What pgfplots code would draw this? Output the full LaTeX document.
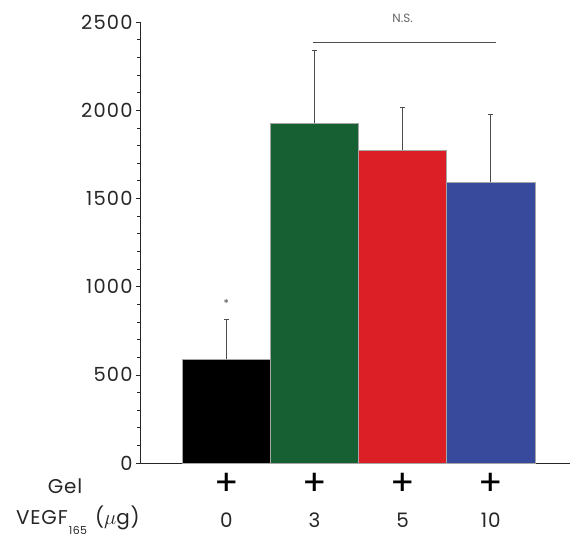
\documentclass[border=0pt]{standalone}
\usepackage{pgfplots}
\pgfplotsset{compat=1.18}
\usepackage{fontspec}
\setmainfont{Poppins}
\definecolor{cgreen}{HTML}{166033}
\definecolor{cred}{HTML}{DC1F26}
\definecolor{cblue}{HTML}{374A9C}
\tikzset{
  plussign/.style={font=\fontsize{36}{36}\selectfont, inner sep=0pt},
  numlab/.style={font=\fontsize{20}{20}\selectfont\addfontfeatures{LetterSpace=4}, text=black!85, inner sep=0pt},
}
\begin{document}
\begin{tikzpicture}
\begin{axis}[name=ax, scale only axis, width=430bp, height=441bp,
  xmin=-0.98, xmax=3.9, ymin=0, ymax=2500, clip=false,
  axis x line=bottom, axis y line=left,
  axis line style={-, line width=0.6pt, black!85},
  ytick={0,500,...,2500}, minor y tick num=4,
  xtick=\empty,
  tick align=outside, major tick length=4bp, minor tick length=2.5bp,
  tick style={black!85, line width=0.6pt},
  yticklabel style={font=\fontsize{19.5}{19.5}\selectfont\addfontfeatures{LetterSpace=6}, /pgf/number format/assume math mode=true, text=black!85},
  /pgf/number format/1000 sep={},
  ybar, bar width=1, bar shift=0pt,
  every axis plot/.append style={draw=gray!70, line width=0.4pt},
]
\addplot[fill=black, error bars/.cd, y dir=plus, y explicit,
  error bar style={black!70, line width=0.9pt}, error mark options={rotate=90, black!70, line width=0.9pt, mark size=2.5bp}]
  coordinates {(0,588) +- (0,227)};
\addplot[fill=cgreen, error bars/.cd, y dir=plus, y explicit,
  error bar style={black!70, line width=0.9pt}, error mark options={rotate=90, black!70, line width=0.9pt, mark size=2.5bp}]
  coordinates {(1,1926) +- (0,415)};
\addplot[fill=cred, error bars/.cd, y dir=plus, y explicit,
  error bar style={black!70, line width=0.9pt}, error mark options={rotate=90, black!70, line width=0.9pt, mark size=2.5bp}]
  coordinates {(2,1774) +- (0,240)};
\addplot[fill=cblue, error bars/.cd, y dir=plus, y explicit,
  error bar style={black!70, line width=0.9pt}, error mark options={rotate=90, black!70, line width=0.9pt, mark size=2.5bp}]
  coordinates {(3,1591) +- (0,386)};
\draw[black!70, line width=0.7pt] (axis cs:0.98,2383) -- (axis cs:3.06,2383);
\node[font=\fontsize{12}{12}\selectfont, text=black!60] at (axis cs:2,2520) {N.S.};
\node[font=\fontsize{11}{11}\selectfont, text=black!70] at (axis cs:0,905) {*};
\node[plussign] at ([yshift=-21bp]axis cs:0,0) {+};
\node[plussign] at ([yshift=-21bp]axis cs:1,0) {+};
\node[plussign] at ([yshift=-21bp]axis cs:2,0) {+};
\node[plussign] at ([yshift=-21bp]axis cs:3,0) {+};
\node[numlab] at ([yshift=-57bp]axis cs:0,0) {0};
\node[numlab] at ([yshift=-57bp]axis cs:1,0) {3};
\node[numlab] at ([yshift=-57bp]axis cs:2,0) {5};
\node[numlab] at ([yshift=-57bp]axis cs:3,0) {10};
\end{axis}
\node[numlab] at ([xshift=-75bp,yshift=-23bp]ax.south west) {Gel};
\node[numlab, anchor=west] at ([xshift=-124bp,yshift=-57bp]ax.south west) {VEGF\kern1bp\raisebox{-10bp}{\fontsize{11}{11}\selectfont 165}\kern8bp($\mu$g)};
\pgfresetboundingbox
\path ([xshift=-140bp,yshift=-81bp]ax.south west) rectangle ([xshift=2bp,yshift=22bp]ax.north east);
\end{tikzpicture}
\end{document}
